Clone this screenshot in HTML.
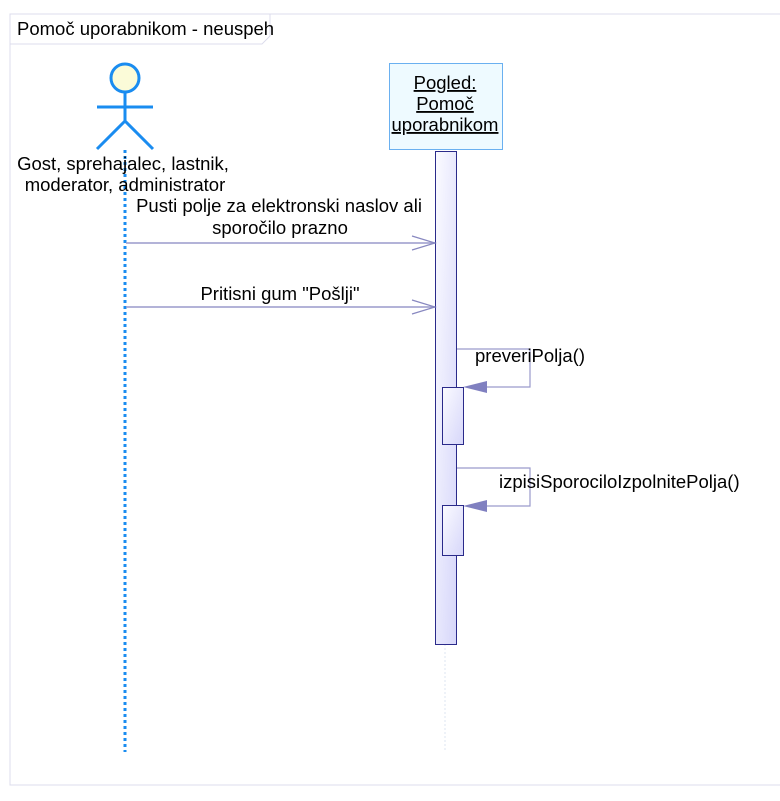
<!DOCTYPE html>
<html><head><meta charset="utf-8"><style>
body{margin:0;background:#fff;}
svg text{font-family:"Liberation Sans",sans-serif;font-size:18.5px;fill:#000;}
</style></head><body>
<svg width="780" height="796" viewBox="0 0 780 796" xmlns="http://www.w3.org/2000/svg">
<defs>
<linearGradient id="g" x1="0" y1="0" x2="1" y2="1"><stop offset="0" stop-color="#fbfbff"/><stop offset="1" stop-color="#d6d6fa"/></linearGradient>
</defs>
<rect x="10" y="14" width="775" height="771" fill="none" stroke="#dcdcec" stroke-width="1"/>
<path d="M10 44 H262 L270 36 V14" fill="none" stroke="#dcdcec"/>
<text x="17" y="35">Pomoč uporabnikom - neuspeh</text>
<!-- actor -->
<circle cx="125" cy="78" r="14" fill="#fbfbd8" stroke="#1a8cf0" stroke-width="3"/>
<line x1="125" y1="92" x2="125" y2="121" stroke="#1a8cf0" stroke-width="3"/>
<line x1="97" y1="107" x2="153" y2="107" stroke="#1a8cf0" stroke-width="3"/>
<line x1="125" y1="121" x2="97" y2="149" stroke="#1a8cf0" stroke-width="3"/>
<line x1="125" y1="121" x2="153" y2="149" stroke="#1a8cf0" stroke-width="3"/>
<line x1="125" y1="150" x2="125" y2="752" stroke="#1a8cf0" stroke-width="3" stroke-dasharray="3 3"/>
<text x="123" y="170" text-anchor="middle">Gost, sprehajalec, lastnik,</text>
<text x="125" y="191" text-anchor="middle">moderator, administrator</text>
<!-- object -->
<rect x="389.5" y="63.5" width="113" height="86" fill="#eefaff" stroke="#6ab0f0"/>
<text x="445" y="89" text-anchor="middle" text-decoration="underline">Pogled:</text>
<text x="445" y="110" text-anchor="middle" text-decoration="underline">Pomoč</text>
<text x="445" y="131" text-anchor="middle" text-decoration="underline">uporabnikom</text>
<line x1="445" y1="644" x2="445" y2="750" stroke="#dde6f0" stroke-dasharray="2 2"/>
<rect x="435.5" y="151.5" width="21" height="493" fill="url(#g)" stroke="#2a2a8a"/>
<!-- messages -->
<text x="279" y="212" text-anchor="middle">Pusti polje za elektronski naslov ali</text>
<text x="280" y="234" text-anchor="middle">sporočilo prazno</text>
<line x1="126" y1="243" x2="435" y2="243" stroke="#9a9acc" stroke-width="1.5"/>
<polyline points="412,236 435,243 412,250" fill="none" stroke="#8888c0" stroke-width="1.2"/>
<text x="280" y="300" text-anchor="middle">Pritisni gum "Pošlji"</text>
<line x1="126" y1="307" x2="435" y2="307" stroke="#9a9acc" stroke-width="1.5"/>
<polyline points="412,300 435,307 412,314" fill="none" stroke="#8888c0" stroke-width="1.2"/>
<!-- self 1 -->
<polyline points="457,349 530,349 530,387 470,387" fill="none" stroke="#9a9acc" stroke-width="1.2"/>
<polygon points="463,387 487,381 487,393" fill="#8080c0"/>
<text x="475" y="362">preveriPolja()</text>
<rect x="442.5" y="387.5" width="21" height="57" fill="url(#g)" stroke="#2a2a8a"/>
<!-- self 2 -->
<polyline points="457,468 530,468 530,506 470,506" fill="none" stroke="#9a9acc" stroke-width="1.2"/>
<polygon points="463,506 487,500 487,512" fill="#8080c0"/>
<text x="499" y="488">izpisiSporociloIzpolnitePolja()</text>
<rect x="442.5" y="505.5" width="21" height="50" fill="url(#g)" stroke="#2a2a8a"/>
</svg>
</body></html>
